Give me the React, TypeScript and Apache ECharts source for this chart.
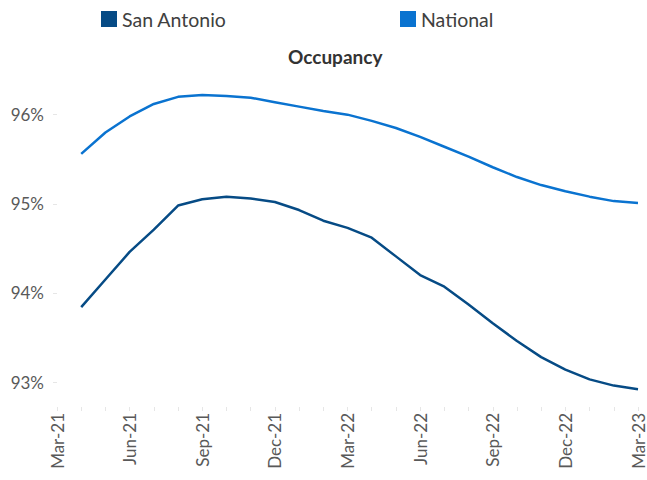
import React, { useEffect, useRef } from "react";
import * as echarts from "echarts";

const categories = [
  "Mar-21", "Apr-21", "May-21", "Jun-21", "Jul-21", "Aug-21", "Sep-21", "Oct-21", "Nov-21", "Dec-21",
  "Jan-22", "Feb-22", "Mar-22", "Apr-22", "May-22", "Jun-22", "Jul-22", "Aug-22", "Sep-22", "Oct-22",
  "Nov-22", "Dec-22", "Jan-23", "Feb-23", "Mar-23",
];

const sanAntonio = [
  null, 93.84, 94.15, 94.46, 94.71, 94.98, 95.05, 95.08, 95.06, 95.02,
  94.93, 94.81, 94.73, 94.62, 94.41, 94.2, 94.07, 93.87, 93.66, 93.46,
  93.28, 93.14, 93.03, 92.96, 92.92,
];

const national = [
  null, 95.56, 95.8, 95.98, 96.12, 96.2, 96.22, 96.21, 96.19, 96.14,
  96.09, 96.04, 96.0, 95.93, 95.85, 95.75, 95.64, 95.53, 95.41, 95.3,
  95.21, 95.14, 95.08, 95.03, 95.01,
];

const yTicks = [93, 94, 95, 96];

const FONT = "Lato, 'Open Sans', sans-serif";
const SA_COLOR = "#064b85";
const NAT_COLOR = "#0a73d0";

export default function App() {
  const ref = useRef<HTMLDivElement>(null);
  useEffect(() => {
    if (!ref.current) return;
    const chart = echarts.init(ref.current, undefined, { renderer: "svg" });
    chart.setOption({
      animation: false,
      backgroundColor: "#ffffff",
      textStyle: { fontFamily: FONT },
      title: {
        text: "Occupancy",
        left: 283,
        top: 42,
        textStyle: { fontFamily: FONT, fontSize: 19, fontWeight: "bold", color: "#333333" },
      },
      legend: [
        {
          data: [{ name: "San Antonio", icon: "rect" }],
          left: 96,
          top: 4,
          itemWidth: 16,
          itemHeight: 16,
          itemGap: 6,
          textStyle: { fontFamily: FONT, fontSize: 19.5, color: "#404040", padding: [0, 0, 0, 0] },
        },
        {
          data: [{ name: "National", icon: "rect" }],
          left: 395,
          top: 4,
          itemWidth: 16,
          itemHeight: 16,
          itemGap: 6,
          textStyle: { fontFamily: FONT, fontSize: 19.5, color: "#404040", padding: [0, 0, 0, 0] },
        },
      ],
      grid: { left: 57, right: 9, top: 79, bottom: 73, containLabel: false },
      xAxis: {
        type: "category",
        data: categories,
        boundaryGap: false,
        axisLine: { show: false },
        axisTick: { show: true, interval: 0, length: 4, lineStyle: { color: "#e6e6e6" } },
        axisLabel: {
          interval: 2,
          rotate: 90,
          margin: 6,
          fontFamily: FONT,
          fontSize: 17,
          color: "#595959",
        },
        splitLine: { show: false },
      },
      yAxis: {
        type: "value",
        min: 92.72,
        max: 96.4,
        axisLine: { show: false },
        axisTick: {
          show: true,
          length: 4,
          customValues: yTicks,
          lineStyle: { color: "#e6e6e6" },
        },
        axisLabel: {
          customValues: yTicks,
          margin: 13,
          fontFamily: FONT,
          fontSize: 17,
          color: "#595959",
          formatter: (v: number) => `${Math.round(v)}%`,
        },
        splitLine: { show: false },
      },
      series: [
        {
          name: "San Antonio",
          type: "line",
          data: sanAntonio,
          symbol: "none",
          itemStyle: { color: SA_COLOR },
          lineStyle: { color: SA_COLOR, width: 2.5 },
        },
        {
          name: "National",
          type: "line",
          data: national,
          symbol: "none",
          itemStyle: { color: NAT_COLOR },
          lineStyle: { color: NAT_COLOR, width: 2.5 },
        },
      ],
    });
    return () => chart.dispose();
  }, []);
  return (
    <div
      ref={ref}
      style={{ position: "fixed", left: 0, top: 0, width: 647, height: 480 }}
    />
  );
}
